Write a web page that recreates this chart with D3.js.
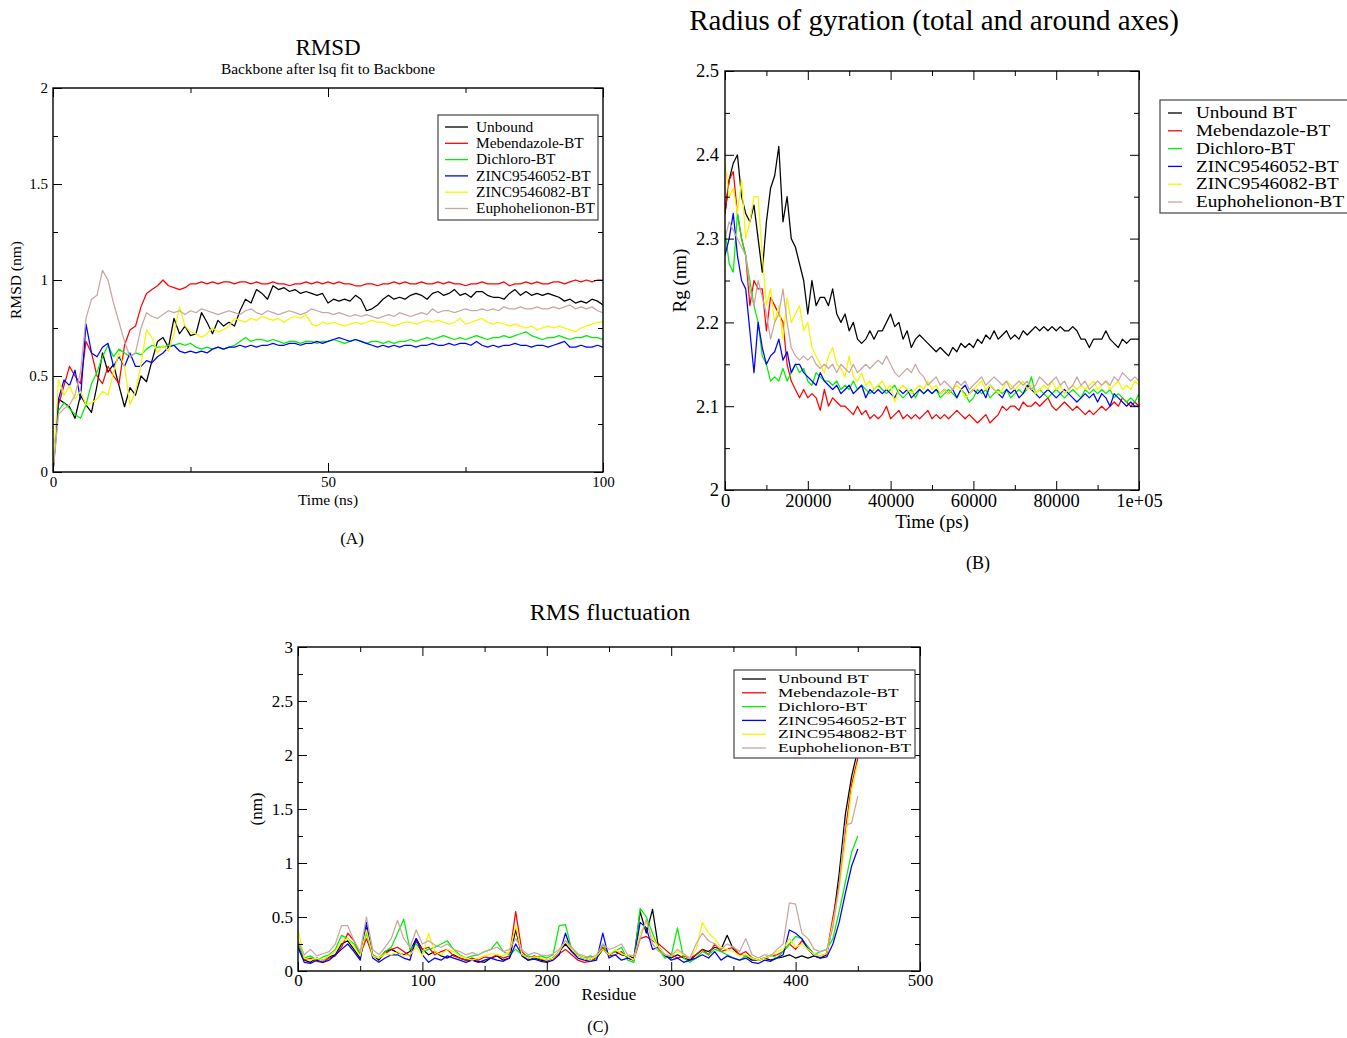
<!DOCTYPE html>
<html>
<head>
<meta charset="utf-8">
<script src="https://cdn.jsdelivr.net/npm/d3@7"></script>
<style>
  body { margin: 0; background: #fff; }
  text { font-family: "Liberation Serif", "DejaVu Serif", serif; fill: #000; }
</style>
</head>
<body>
<svg id="chart" width="1347" height="1038"></svg>
<script>
// ---------- data ----------
const seriesColors = ["#000000", "#ff0000", "#00ee00", "#0000ff", "#f5f500", "#c9a6a6"];

// (A) RMSD, one value per ns, 0..100
const rmsdStep = 1;
const rmsdNames = ["Unbound", "Mebendazole-BT", "Dichloro-BT", "ZINC9546052-BT", "ZINC9546082-BT", "Euphohelionon-BT"];
const rmsdUnbound = [0,0.38,0.36,0.34,0.28,0.40,0.35,0.31,0.45,0.62,0.52,0.56,0.45,0.34,0.44,0.40,0.50,0.47,0.58,0.68,0.70,0.65,0.80,0.72,0.76,0.71,0.72,0.83,0.78,0.72,0.79,0.76,0.78,0.76,0.84,0.90,0.88,0.95,0.93,0.90,0.97,0.95,0.96,0.94,0.95,0.93,0.94,0.93,0.92,0.93,0.88,0.90,0.89,0.90,0.89,0.92,0.90,0.84,0.85,0.87,0.90,0.92,0.90,0.91,0.90,0.92,0.93,0.92,0.90,0.93,0.94,0.92,0.93,0.95,0.92,0.93,0.91,0.94,0.94,0.92,0.91,0.91,0.90,0.93,0.95,0.92,0.94,0.92,0.93,0.92,0.93,0.92,0.91,0.89,0.90,0.88,0.89,0.88,0.90,0.89,0.87];
const rmsdMebendazole = [0,0.35,0.45,0.55,0.50,0.46,0.68,0.62,0.50,0.46,0.55,0.50,0.46,0.66,0.74,0.76,0.86,0.93,0.95,0.97,1.00,0.97,0.96,0.95,0.96,0.98,0.98,0.99,0.98,0.99,0.98,0.99,0.99,0.98,0.99,0.99,0.98,0.99,0.98,0.98,0.99,0.98,0.98,0.97,0.98,0.98,0.99,0.98,0.99,0.98,0.99,0.98,0.99,0.98,0.98,0.97,0.97,0.98,0.98,0.97,0.98,0.98,0.99,0.98,0.99,0.98,0.98,0.99,0.98,0.98,0.99,0.98,0.99,0.98,0.98,0.97,0.98,0.98,0.99,0.98,0.98,0.98,0.99,0.97,0.98,0.98,0.99,0.98,0.99,0.98,0.98,0.99,0.99,0.98,0.99,1.00,0.99,1.00,0.99,1.00,1.00];
const rmsdDichloro = [0,0.32,0.36,0.33,0.30,0.28,0.35,0.46,0.52,0.60,0.66,0.60,0.64,0.62,0.60,0.62,0.61,0.64,0.66,0.65,0.65,0.66,0.66,0.67,0.66,0.67,0.65,0.64,0.65,0.64,0.65,0.64,0.65,0.66,0.68,0.70,0.68,0.69,0.69,0.68,0.69,0.68,0.67,0.68,0.68,0.67,0.68,0.68,0.67,0.68,0.68,0.69,0.68,0.67,0.68,0.69,0.68,0.67,0.68,0.68,0.67,0.68,0.67,0.68,0.68,0.69,0.68,0.69,0.70,0.69,0.70,0.71,0.70,0.69,0.70,0.69,0.70,0.71,0.70,0.69,0.70,0.70,0.71,0.70,0.71,0.72,0.73,0.71,0.70,0.69,0.70,0.70,0.71,0.70,0.69,0.70,0.70,0.71,0.70,0.70,0.69];
const rmsdZinc052 = [0,0.38,0.48,0.45,0.53,0.38,0.77,0.62,0.60,0.65,0.67,0.55,0.60,0.55,0.62,0.55,0.55,0.58,0.57,0.60,0.62,0.65,0.66,0.63,0.62,0.63,0.62,0.63,0.62,0.64,0.65,0.64,0.65,0.65,0.66,0.65,0.66,0.65,0.66,0.66,0.67,0.66,0.66,0.67,0.67,0.66,0.67,0.67,0.68,0.67,0.68,0.69,0.70,0.69,0.68,0.69,0.68,0.67,0.66,0.65,0.66,0.65,0.66,0.65,0.66,0.66,0.65,0.66,0.66,0.67,0.66,0.66,0.67,0.66,0.67,0.67,0.66,0.68,0.66,0.65,0.66,0.65,0.66,0.66,0.67,0.66,0.66,0.65,0.66,0.66,0.65,0.66,0.67,0.68,0.65,0.65,0.66,0.65,0.65,0.66,0.65];
const rmsdZinc082 = [0,0.48,0.40,0.45,0.38,0.42,0.35,0.36,0.38,0.42,0.40,0.52,0.62,0.55,0.35,0.42,0.56,0.74,0.70,0.62,0.66,0.63,0.72,0.86,0.76,0.73,0.72,0.70,0.72,0.75,0.73,0.74,0.76,0.80,0.79,0.78,0.80,0.79,0.81,0.80,0.79,0.80,0.78,0.80,0.81,0.80,0.82,0.77,0.76,0.78,0.77,0.78,0.77,0.76,0.77,0.78,0.77,0.78,0.79,0.78,0.78,0.77,0.76,0.77,0.78,0.78,0.77,0.78,0.79,0.78,0.79,0.78,0.77,0.78,0.80,0.77,0.78,0.79,0.80,0.78,0.77,0.78,0.77,0.76,0.77,0.76,0.75,0.76,0.74,0.75,0.76,0.75,0.76,0.75,0.74,0.73,0.75,0.76,0.77,0.78,0.78];
const rmsdEupho = [0,0.30,0.33,0.35,0.40,0.52,0.80,0.90,0.92,1.05,1.00,0.88,0.78,0.68,0.60,0.62,0.75,0.83,0.81,0.80,0.82,0.84,0.83,0.84,0.82,0.84,0.83,0.85,0.84,0.83,0.82,0.83,0.84,0.83,0.82,0.84,0.85,0.83,0.82,0.84,0.83,0.82,0.83,0.84,0.83,0.82,0.83,0.85,0.84,0.83,0.83,0.82,0.83,0.82,0.81,0.82,0.81,0.82,0.81,0.80,0.81,0.82,0.81,0.83,0.82,0.81,0.82,0.83,0.82,0.85,0.83,0.84,0.84,0.83,0.84,0.85,0.84,0.84,0.85,0.84,0.85,0.84,0.86,0.85,0.85,0.86,0.85,0.85,0.86,0.85,0.85,0.86,0.85,0.86,0.87,0.85,0.86,0.85,0.86,0.84,0.83];

// (B) Radius of gyration, one value per 1000 ps, 0..100000
const rgStep = 1000;
const rgNames = ["Unbound BT", "Mebendazole-BT", "Dichloro-BT", "ZINC9546052-BT", "ZINC9546082-BT", "Euphohelionon-BT"];
const rgUnbound = [2.33,2.37,2.39,2.40,2.35,2.33,2.32,2.34,2.30,2.26,2.32,2.36,2.375,2.41,2.32,2.35,2.30,2.29,2.27,2.25,2.21,2.25,2.22,2.23,2.23,2.22,2.24,2.21,2.20,2.21,2.19,2.20,2.18,2.175,2.18,2.19,2.18,2.19,2.19,2.20,2.21,2.195,2.20,2.18,2.19,2.17,2.18,2.185,2.18,2.175,2.17,2.165,2.17,2.165,2.16,2.17,2.165,2.175,2.17,2.175,2.17,2.18,2.175,2.185,2.18,2.19,2.18,2.185,2.19,2.18,2.185,2.18,2.19,2.185,2.19,2.195,2.19,2.195,2.19,2.195,2.19,2.195,2.19,2.19,2.195,2.19,2.18,2.18,2.17,2.18,2.18,2.18,2.19,2.18,2.175,2.17,2.18,2.175,2.18,2.18,2.18];
const rgMebendazole = [2.33,2.37,2.38,2.33,2.30,2.28,2.22,2.25,2.24,2.24,2.19,2.23,2.22,2.21,2.20,2.15,2.13,2.12,2.11,2.12,2.11,2.115,2.11,2.095,2.12,2.10,2.11,2.105,2.10,2.10,2.095,2.09,2.10,2.09,2.095,2.085,2.09,2.085,2.09,2.10,2.085,2.09,2.095,2.085,2.09,2.085,2.09,2.085,2.09,2.095,2.085,2.09,2.085,2.09,2.085,2.09,2.095,2.09,2.085,2.09,2.085,2.08,2.085,2.09,2.08,2.085,2.09,2.10,2.095,2.10,2.10,2.095,2.105,2.10,2.10,2.105,2.10,2.105,2.11,2.10,2.095,2.10,2.105,2.10,2.095,2.10,2.095,2.09,2.095,2.09,2.095,2.10,2.095,2.10,2.105,2.10,2.11,2.105,2.10,2.105,2.10];
const rgDichloro = [2.31,2.27,2.26,2.33,2.30,2.28,2.25,2.22,2.20,2.16,2.15,2.13,2.135,2.13,2.145,2.13,2.14,2.15,2.14,2.145,2.13,2.125,2.14,2.135,2.13,2.13,2.125,2.13,2.12,2.125,2.12,2.13,2.12,2.125,2.12,2.115,2.12,2.125,2.12,2.115,2.12,2.125,2.115,2.11,2.115,2.12,2.11,2.12,2.115,2.12,2.115,2.12,2.11,2.115,2.12,2.115,2.11,2.12,2.115,2.105,2.11,2.12,2.115,2.12,2.11,2.115,2.12,2.115,2.12,2.11,2.115,2.12,2.115,2.12,2.135,2.115,2.12,2.115,2.11,2.115,2.12,2.115,2.11,2.115,2.12,2.115,2.11,2.12,2.115,2.12,2.115,2.12,2.115,2.12,2.11,2.115,2.11,2.105,2.11,2.105,2.115];
const rgZinc052 = [2.28,2.30,2.33,2.28,2.25,2.24,2.19,2.14,2.20,2.17,2.15,2.16,2.165,2.18,2.155,2.165,2.14,2.15,2.15,2.14,2.135,2.13,2.125,2.14,2.13,2.125,2.12,2.125,2.115,2.12,2.125,2.115,2.12,2.125,2.11,2.12,2.115,2.12,2.115,2.12,2.115,2.11,2.12,2.115,2.12,2.11,2.115,2.12,2.115,2.12,2.115,2.12,2.115,2.12,2.115,2.12,2.11,2.12,2.125,2.115,2.12,2.115,2.12,2.11,2.125,2.12,2.115,2.11,2.12,2.115,2.12,2.11,2.115,2.125,2.12,2.115,2.11,2.115,2.12,2.115,2.11,2.115,2.12,2.115,2.11,2.105,2.11,2.115,2.11,2.115,2.105,2.115,2.11,2.10,2.115,2.11,2.105,2.10,2.105,2.10,2.10];
const rgZinc082 = [2.39,2.35,2.36,2.33,2.37,2.30,2.32,2.35,2.35,2.28,2.22,2.24,2.20,2.22,2.18,2.23,2.20,2.21,2.22,2.19,2.20,2.17,2.16,2.15,2.14,2.16,2.17,2.15,2.145,2.135,2.16,2.135,2.13,2.14,2.125,2.13,2.12,2.125,2.13,2.12,2.125,2.105,2.12,2.125,2.12,2.115,2.12,2.125,2.12,2.13,2.12,2.125,2.115,2.12,2.115,2.12,2.125,2.12,2.11,2.115,2.12,2.125,2.13,2.12,2.125,2.12,2.115,2.12,2.13,2.125,2.12,2.125,2.13,2.12,2.125,2.115,2.12,2.125,2.12,2.13,2.12,2.125,2.115,2.12,2.125,2.12,2.125,2.12,2.125,2.13,2.12,2.125,2.13,2.12,2.125,2.13,2.12,2.125,2.12,2.13,2.125];
const rgEupho = [2.30,2.32,2.31,2.30,2.29,2.28,2.24,2.22,2.25,2.23,2.21,2.18,2.20,2.21,2.24,2.20,2.17,2.16,2.155,2.16,2.155,2.16,2.15,2.145,2.15,2.145,2.15,2.14,2.15,2.145,2.14,2.15,2.14,2.145,2.15,2.145,2.15,2.155,2.15,2.16,2.15,2.14,2.135,2.14,2.145,2.14,2.15,2.14,2.135,2.125,2.13,2.135,2.125,2.13,2.125,2.12,2.13,2.125,2.13,2.12,2.125,2.13,2.135,2.125,2.13,2.135,2.13,2.125,2.13,2.12,2.125,2.13,2.125,2.13,2.12,2.125,2.135,2.13,2.125,2.13,2.135,2.125,2.13,2.12,2.125,2.135,2.125,2.13,2.12,2.125,2.13,2.125,2.13,2.125,2.135,2.13,2.14,2.135,2.13,2.135,2.13];

// (C) RMS fluctuation, one value per 5 residues, 0..450
const rmsfStep = 5;
const rmsfNames = ["Unbound BT", "Mebendazole-BT", "Dichloro-BT", "ZINC9546052-BT", "ZINC9548082-BT", "Euphohelionon-BT"];
const rmsfUnbound = [0.25,0.10,0.08,0.12,0.10,0.13,0.15,0.25,0.28,0.20,0.12,0.40,0.15,0.10,0.18,0.20,0.17,0.15,0.18,0.30,0.20,0.15,0.18,0.14,0.12,0.15,0.12,0.10,0.10,0.09,0.08,0.12,0.14,0.10,0.12,0.38,0.14,0.10,0.12,0.10,0.09,0.12,0.18,0.25,0.18,0.14,0.12,0.10,0.12,0.20,0.15,0.18,0.15,0.14,0.12,0.55,0.35,0.57,0.20,0.14,0.12,0.15,0.12,0.10,0.15,0.20,0.18,0.22,0.20,0.33,0.20,0.15,0.14,0.10,0.10,0.12,0.10,0.12,0.13,0.15,0.12,0.14,0.12,0.14,0.12,0.15,0.45,0.90,1.45,1.80,2.05];
const rmsfMebendazole = [0.22,0.10,0.12,0.09,0.08,0.12,0.14,0.22,0.35,0.28,0.15,0.30,0.14,0.12,0.16,0.20,0.22,0.18,0.14,0.28,0.20,0.22,0.15,0.18,0.20,0.14,0.12,0.10,0.12,0.10,0.13,0.12,0.15,0.12,0.14,0.55,0.18,0.12,0.14,0.11,0.10,0.12,0.16,0.20,0.15,0.10,0.08,0.09,0.12,0.22,0.14,0.15,0.18,0.12,0.10,0.30,0.32,0.28,0.25,0.20,0.15,0.12,0.14,0.12,0.15,0.20,0.15,0.25,0.18,0.20,0.22,0.15,0.18,0.12,0.10,0.12,0.14,0.15,0.18,0.25,0.20,0.28,0.22,0.15,0.14,0.16,0.50,0.80,1.30,1.72,1.97];
const rmsfDichloro = [0.25,0.12,0.14,0.10,0.13,0.15,0.20,0.33,0.30,0.25,0.15,0.35,0.15,0.12,0.18,0.22,0.35,0.48,0.20,0.25,0.18,0.20,0.22,0.25,0.28,0.20,0.15,0.12,0.14,0.15,0.18,0.20,0.27,0.18,0.15,0.20,0.15,0.14,0.12,0.14,0.12,0.15,0.42,0.43,0.20,0.15,0.12,0.14,0.12,0.25,0.15,0.18,0.22,0.10,0.08,0.58,0.50,0.35,0.20,0.12,0.14,0.40,0.12,0.08,0.12,0.18,0.15,0.20,0.18,0.15,0.12,0.10,0.14,0.12,0.10,0.12,0.15,0.12,0.18,0.25,0.32,0.30,0.22,0.15,0.18,0.20,0.30,0.55,0.82,1.10,1.25];
const rmsfZinc052 = [0.22,0.08,0.07,0.10,0.08,0.10,0.15,0.20,0.25,0.18,0.10,0.45,0.12,0.08,0.12,0.15,0.15,0.12,0.10,0.30,0.15,0.08,0.12,0.10,0.14,0.12,0.10,0.08,0.10,0.08,0.10,0.12,0.10,0.09,0.12,0.25,0.15,0.10,0.11,0.09,0.08,0.10,0.15,0.35,0.18,0.12,0.10,0.09,0.10,0.35,0.12,0.15,0.10,0.12,0.10,0.45,0.40,0.20,0.22,0.15,0.10,0.12,0.08,0.10,0.12,0.15,0.12,0.18,0.10,0.14,0.12,0.10,0.12,0.08,0.07,0.10,0.09,0.12,0.15,0.38,0.35,0.30,0.20,0.14,0.12,0.13,0.25,0.45,0.72,0.97,1.13];
const rmsfZinc082 = [0.38,0.12,0.10,0.12,0.10,0.14,0.18,0.28,0.30,0.22,0.14,0.38,0.14,0.12,0.16,0.15,0.18,0.14,0.15,0.22,0.14,0.35,0.18,0.15,0.20,0.18,0.14,0.12,0.10,0.12,0.14,0.16,0.15,0.14,0.18,0.42,0.15,0.12,0.13,0.12,0.10,0.12,0.18,0.28,0.20,0.14,0.12,0.10,0.14,0.20,0.15,0.20,0.16,0.14,0.10,0.35,0.45,0.30,0.22,0.15,0.14,0.18,0.15,0.12,0.20,0.45,0.35,0.30,0.22,0.20,0.18,0.14,0.15,0.12,0.10,0.12,0.14,0.18,0.20,0.30,0.22,0.25,0.20,0.15,0.14,0.16,0.45,0.75,1.20,1.68,1.93];
const rmsfEupho = [0.28,0.15,0.20,0.14,0.16,0.18,0.25,0.42,0.42,0.28,0.18,0.50,0.20,0.15,0.22,0.30,0.47,0.30,0.22,0.38,0.25,0.28,0.24,0.22,0.25,0.20,0.18,0.15,0.17,0.15,0.18,0.20,0.22,0.18,0.20,0.30,0.20,0.15,0.17,0.15,0.14,0.16,0.20,0.28,0.22,0.16,0.14,0.12,0.15,0.25,0.20,0.22,0.25,0.15,0.14,0.30,0.48,0.25,0.18,0.15,0.14,0.20,0.16,0.12,0.25,0.35,0.28,0.25,0.20,0.25,0.22,0.18,0.30,0.15,0.12,0.15,0.14,0.20,0.25,0.63,0.62,0.35,0.30,0.20,0.18,0.20,0.40,0.80,1.35,1.37,1.62];

// tick values and labels
const rmsdXTicks = [0, 50, 100], rmsdXMinor = [25, 75];
const rmsdYTicks = [0, 0.5, 1, 1.5, 2], rmsdYMinor = [0.25, 0.75, 1.25, 1.75];
const rgXTicks = [0, 20000, 40000, 60000, 80000, 100000];
const rgXTickLabels = ["0", "20000", "40000", "60000", "80000", "1e+05"];
const rgXMinor = [10000, 30000, 50000, 70000, 90000];
const rgYTicks = [2, 2.1, 2.2, 2.3, 2.4, 2.5];
const rgYTickLabels = ["2", "2.1", "2.2", "2.3", "2.4", "2.5"];
const rgYMinor = [2.05, 2.15, 2.25, 2.35, 2.45];
const rmsfXTicks = [0, 100, 200, 300, 400, 500], rmsfXMinor = [50, 150, 250, 350, 450];
const rmsfYTicks = [0, 0.5, 1, 1.5, 2, 2.5, 3], rmsfYMinor = [0.25, 0.75, 1.25, 1.75, 2.25, 2.75];

// ---------- drawing ----------
const svg = d3.select("#chart");
const serif = '"Liberation Serif", "DejaVu Serif", serif';

function drawPanel(o) {
  const g = svg.append("g");
  const x = d3.scaleLinear(o.xDomain, [o.left, o.right]);
  const y = d3.scaleLinear(o.yDomain, [o.bottom, o.top]);
  const clipId = "clip-" + o.key;

  g.append("clipPath").attr("id", clipId)
    .append("rect")
    .attr("x", o.left).attr("y", o.top)
    .attr("width", o.right - o.left).attr("height", o.bottom - o.top);

  // series
  const line = d3.line()
    .x((d, i) => x(i * o.step))
    .y(d => y(d));
  g.append("g").attr("clip-path", `url(#${clipId})`)
    .selectAll("path")
    .data(o.series)
    .join("path")
    .attr("fill", "none")
    .attr("stroke", (d, i) => seriesColors[i])
    .attr("stroke-width", 1.25)
    .attr("stroke-linejoin", "round")
    .attr("d", line);

  // axes, ticks point inward on all four sides
  const fmtX = o.xLabels ? (d, i) => o.xLabels[i] : d => String(d);
  const fmtY = o.yLabels ? (d, i) => o.yLabels[i] : d => String(d);
  const style = sel => sel
    .attr("font-family", serif)
    .attr("font-size", o.tickFont)
    .call(s => s.select(".domain").remove());

  g.append("g").attr("transform", `translate(0,${o.bottom})`)
    .call(d3.axisBottom(x).tickValues(o.xTicks).tickFormat(fmtX).tickSize(-9).tickPadding(o.xPad))
    .call(style);
  g.append("g").attr("transform", `translate(0,${o.bottom})`)
    .call(d3.axisBottom(x).tickValues(o.xMinor).tickFormat("").tickSize(-5))
    .call(style);
  g.append("g").attr("transform", `translate(0,${o.top})`)
    .call(d3.axisTop(x).tickValues(o.xTicks).tickFormat("").tickSize(-9))
    .call(style);
  g.append("g").attr("transform", `translate(0,${o.top})`)
    .call(d3.axisTop(x).tickValues(o.xMinor).tickFormat("").tickSize(-5))
    .call(style);
  g.append("g").attr("transform", `translate(${o.left},0)`)
    .call(d3.axisLeft(y).tickValues(o.yTicks).tickFormat(fmtY).tickSize(-9).tickPadding(o.yPad))
    .call(style);
  g.append("g").attr("transform", `translate(${o.left},0)`)
    .call(d3.axisLeft(y).tickValues(o.yMinor).tickFormat("").tickSize(-5))
    .call(style);
  g.append("g").attr("transform", `translate(${o.right},0)`)
    .call(d3.axisRight(y).tickValues(o.yTicks).tickFormat("").tickSize(-9))
    .call(style);
  g.append("g").attr("transform", `translate(${o.right},0)`)
    .call(d3.axisRight(y).tickValues(o.yMinor).tickFormat("").tickSize(-5))
    .call(style);

  g.append("rect")
    .attr("x", o.left).attr("y", o.top)
    .attr("width", o.right - o.left).attr("height", o.bottom - o.top)
    .attr("fill", "none").attr("stroke", "#000").attr("stroke-width", 1.4);

  // titles and labels
  const cx = (o.left + o.right) / 2;
  g.append("text").attr("x", o.titleX ?? cx).attr("y", o.titleY)
    .attr("text-anchor", "middle").attr("font-size", o.titleFont).text(o.title);
  if (o.subtitle) g.append("text").attr("x", cx).attr("y", o.subtitleY)
    .attr("text-anchor", "middle").attr("font-size", o.subtitleFont).text(o.subtitle);
  g.append("text").attr("x", cx).attr("y", o.xLabelY)
    .attr("text-anchor", "middle").attr("font-size", o.labelFont).text(o.xLabel);
  g.append("text")
    .attr("transform", `translate(${o.yLabelX},${(o.top + o.bottom) / 2}) rotate(-90)`)
    .attr("text-anchor", "middle").attr("font-size", o.labelFont).text(o.yLabel);
  g.append("text").attr("x", o.tagX).attr("y", o.tagY)
    .attr("text-anchor", "middle").attr("font-size", o.tagFont).text(o.tag);

  // legend
  const L = o.legend;
  const lg = g.append("g");
  lg.append("rect")
    .attr("x", L.x).attr("y", L.y).attr("width", L.w).attr("height", L.h)
    .attr("fill", "#fff").attr("stroke", "#444").attr("stroke-width", 1.2);
  const row = lg.selectAll("g.row").data(o.names).join("g")
    .attr("transform", (d, i) => `translate(0,${L.y + L.first + i * L.gap})`);
  row.append("line")
    .attr("x1", L.x + L.lx1).attr("x2", L.x + L.lx2)
    .attr("stroke", (d, i) => seriesColors[i]).attr("stroke-width", 1.3);
  row.append("text")
    .attr("transform", `translate(${L.x + L.tx},0) scale(${L.sx || 1},1)`)
    .attr("dy", "0.33em")
    .attr("font-size", L.font).text(d => d);
}

drawPanel({
  key: "a", left: 53, right: 603, top: 88, bottom: 472,
  xDomain: [0, 100], yDomain: [0, 2], step: rmsdStep,
  series: [rmsdUnbound, rmsdMebendazole, rmsdDichloro, rmsdZinc052, rmsdZinc082, rmsdEupho],
  names: rmsdNames,
  xTicks: rmsdXTicks, xMinor: rmsdXMinor, yTicks: rmsdYTicks, yMinor: rmsdYMinor,
  tickFont: 15, xPad: 4, yPad: 5,
  title: "RMSD", titleY: 55, titleFont: 23,
  subtitle: "Backbone after lsq fit to Backbone", subtitleY: 74, subtitleFont: 15.4,
  xLabel: "Time (ns)", xLabelY: 505, yLabel: "RMSD (nm)", yLabelX: 21, labelFont: 15.5,
  tag: "(A)", tagX: 352, tagY: 544, tagFont: 17,
  legend: { x: 438, y: 115, w: 160, h: 105, first: 12, gap: 16.3, lx1: 7, lx2: 30, tx: 38, font: 14, sx: 1.1 }
});

drawPanel({
  key: "b", left: 725, right: 1139, top: 71, bottom: 490,
  xDomain: [0, 100000], yDomain: [2, 2.5], step: rgStep,
  series: [rgUnbound, rgMebendazole, rgDichloro, rgZinc052, rgZinc082, rgEupho],
  names: rgNames,
  xTicks: rgXTicks, xLabels: rgXTickLabels, xMinor: rgXMinor,
  yTicks: rgYTicks, yLabels: rgYTickLabels, yMinor: rgYMinor,
  tickFont: 18.5, xPad: 4, yPad: 6,
  title: "Radius of gyration (total and around axes)", titleX: 934, titleY: 30, titleFont: 29,
  xLabel: "Time (ps)", xLabelY: 528, yLabel: "Rg (nm)", yLabelX: 686, labelFont: 19,
  tag: "(B)", tagX: 978, tagY: 569, tagFont: 18,
  legend: { x: 1160, y: 100, w: 195, h: 113, first: 13, gap: 17.8, lx1: 8, lx2: 22, tx: 36, font: 16, sx: 1.2 }
});

drawPanel({
  key: "c", left: 298, right: 920, top: 647, bottom: 971,
  xDomain: [0, 500], yDomain: [0, 3], step: rmsfStep,
  series: [rmsfUnbound, rmsfMebendazole, rmsfDichloro, rmsfZinc052, rmsfZinc082, rmsfEupho],
  names: rmsfNames,
  xTicks: rmsfXTicks, xLabels: null, xMinor: rmsfXMinor, yTicks: rmsfYTicks, yMinor: rmsfYMinor,
  tickFont: 17, xPad: 3, yPad: 5,
  title: "RMS fluctuation", titleX: 610, titleY: 620, titleFont: 24,
  xLabel: "Residue", xLabelY: 1000, yLabel: "(nm)", yLabelX: 262, labelFont: 17,
  tag: "(C)", tagX: 598, tagY: 1032, tagFont: 16,
  legend: { x: 734, y: 670, w: 181, h: 88, first: 9, gap: 13.8, lx1: 8, lx2: 32, tx: 44, font: 12.5, sx: 1.38 }
});
</script>
</body>
</html>
